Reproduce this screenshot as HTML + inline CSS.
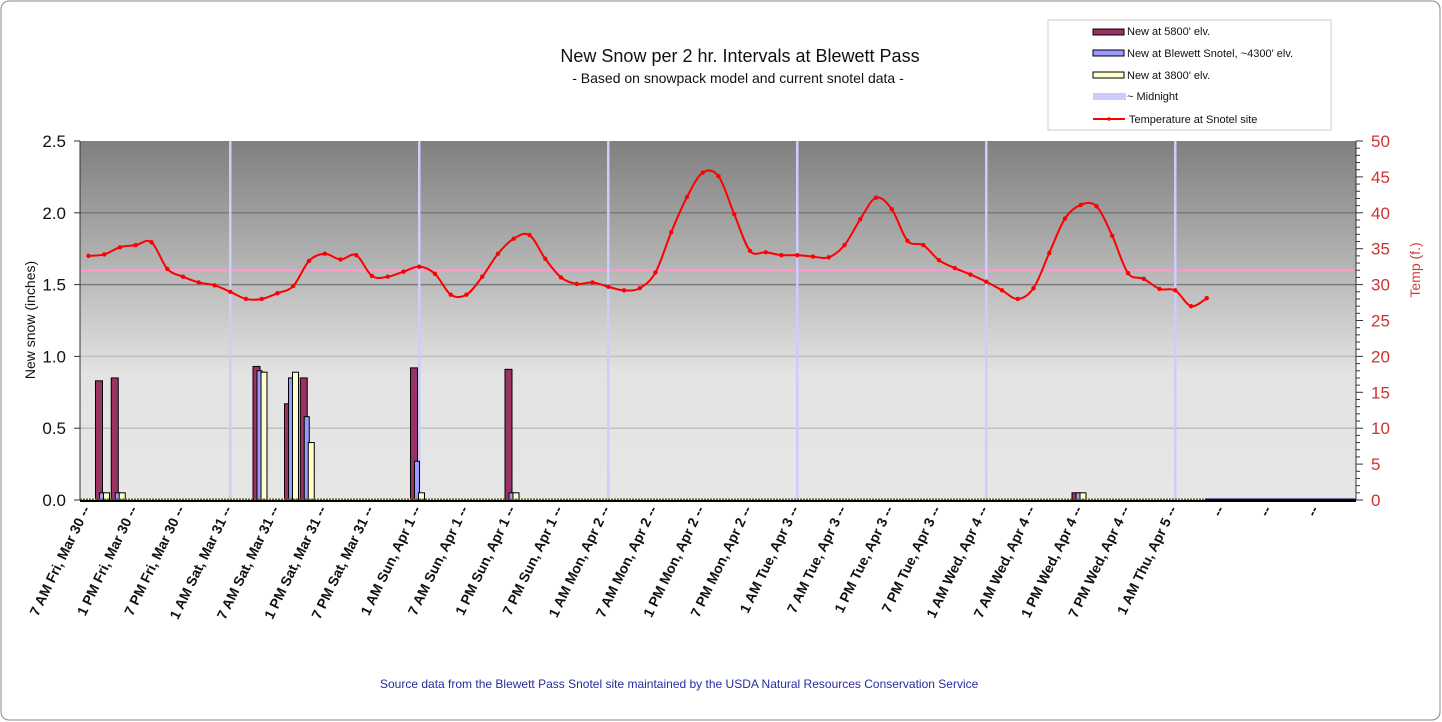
<!DOCTYPE html>
<html><head><meta charset="utf-8"><style>
body{margin:0;background:#fff;}
svg{display:block;font-family:"Liberation Sans",sans-serif;}
</style></head><body>
<svg id="c" width="1442" height="722" viewBox="0 0 1442 722">
<defs><linearGradient id="bg" x1="0" y1="0" x2="0" y2="1">
<stop offset="0" stop-color="#7f7f7f"/><stop offset="0.65" stop-color="#e3e3e3"/><stop offset="1" stop-color="#e6e6e6"/></linearGradient></defs>
<rect x="1" y="1" width="1439" height="719" rx="8" fill="#fff" stroke="#888"/>
<text x="740" y="62" font-size="18" text-anchor="middle" fill="#111">New Snow per 2 hr. Intervals at Blewett Pass</text>
<text x="738" y="83" font-size="14" text-anchor="middle" fill="#111">- Based on snowpack model and current snotel data -</text>
<rect x="80" y="141" width="1276" height="359" fill="url(#bg)"/>
<g id="grid"></g><g id="mid"></g><g id="bars"></g><g id="temp"></g><g id="axes"></g>
<text x="380" y="688" font-size="12" fill="#2a2aa0">Source data  from the Blewett Pass Snotel site maintained by the USDA Natural Resources Conservation Service</text>
<text transform="translate(35,320) rotate(-90)" font-size="14" text-anchor="middle" fill="#111">New snow   (inches)</text>
<text transform="translate(1420,270) rotate(-90)" font-size="14" text-anchor="middle" fill="#d04040">Temp (f.)</text>
<g>
<rect x="1048" y="20" width="283" height="110" fill="#fff" stroke="#ccc"/>
<rect x="1093" y="29" width="31" height="6" fill="#993366" stroke="#000"/><text x="1127" y="35" font-size="11" fill="#111">New at 5800' elv.</text>
<rect x="1093" y="50" width="31" height="6" fill="#9999ff" stroke="#000"/><text x="1127" y="57" font-size="11" fill="#111">New at Blewett Snotel, ~4300' elv.</text>
<rect x="1093" y="72" width="31" height="6" fill="#ffffcc" stroke="#000"/><text x="1127" y="79" font-size="11" fill="#111">New at 3800' elv.</text>
<rect x="1093" y="93" width="33" height="7" fill="#ccccff"/><text x="1127" y="100" font-size="11" fill="#111">~ Midnight</text>
<line x1="1093" y1="119" x2="1125" y2="119" stroke="#f00" stroke-width="2"/><circle cx="1109" cy="119" r="1.8" fill="#f00"/><text x="1129" y="123" font-size="11" fill="#111">Temperature  at Snotel site</text>
</g>
</svg>
<script>
const snowTicks=[0,0.5,1.0,1.5,2.0,2.5];
const tempTicks=[0,5,10,15,20,25,30,35,40,45,50];
const catLabels=["7 AM Fri, Mar 30 --","1 PM Fri, Mar 30 --","7 PM Fri, Mar 30 --","1 AM Sat, Mar 31 --","7 AM Sat, Mar 31 --","1 PM Sat, Mar 31 --","7 PM Sat, Mar 31 --","1 AM Sun, Apr 1 --","7 AM Sun, Apr 1 --","1 PM Sun, Apr 1 --","7 PM Sun, Apr 1 --","1 AM Mon, Apr 2 --","7 AM Mon, Apr 2 --","1 PM Mon, Apr 2 --","7 PM Mon, Apr 2 --","1 AM Tue, Apr 3 --","7 AM Tue, Apr 3 --","1 PM Tue, Apr 3 --","7 PM Tue, Apr 3 --","1 AM Wed, Apr 4 --","7 AM Wed, Apr 4 --","1 PM Wed, Apr 4 --","7 PM Wed, Apr 4 --","1 AM Thu, Apr 5 --","--","--","--"];
const midnightSlots=[9,21,33,45,57,69];
const barSlots=[0,1,10,12,13,20,26,62];
const snow5800=[0.83,0.85,0.93,0.67,0.85,0.92,0.91,0.05];
const snow4300=[0.05,0.05,0.90,0.85,0.58,0.27,0.05,0.05];
const snow3800=[0.05,0.05,0.89,0.89,0.40,0.05,0.05,0.05];
const temps=[34.0,34.2,35.2,35.5,35.9,32.2,31.1,30.3,29.9,29.0,28.0,28.0,28.8,29.8,33.3,34.3,33.5,34.1,31.2,31.1,31.8,32.5,31.5,28.6,28.6,31.1,34.3,36.4,36.9,33.6,31.0,30.1,30.3,29.7,29.2,29.5,31.7,37.3,42.2,45.6,45.1,39.8,34.7,34.5,34.1,34.1,33.9,33.8,35.5,39.1,42.1,40.5,36.1,35.5,33.4,32.3,31.4,30.4,29.2,28.0,29.5,34.4,39.2,41.1,40.9,36.8,31.6,30.8,29.4,29.2,27.0,28.1];
const freezing=32;
const NS="http://www.w3.org/2000/svg";
const X0=80,X1=1356,Y0=500,Y1=141;
const xs=i=>88.5+15.75*i;
const ys=v=>Y0-(v/2.5)*(Y0-Y1);
const yt=v=>Y0-(v/50)*(Y0-Y1);
function mk(tag,attrs,parent,txt){const e=document.createElementNS(NS,tag);for(const k in attrs)e.setAttribute(k,attrs[k]);if(txt!=null)e.textContent=txt;document.getElementById(parent).appendChild(e);return e;}
snowTicks.forEach(v=>{
 if(v>0&&v<2.5){const g=mk('line',{x1:X0,x2:X1,y1:ys(v),y2:ys(v),stroke:v>=1.5?'#7a7a7a':'#c0c0c0','stroke-width':1.5},'grid');
 
 }
 const t=mk('text',{x:66,y:ys(v)+6,'font-size':17,'text-anchor':'end',fill:'#111'},'axes',v.toFixed(1));
 
 
 mk('line',{x1:74,x2:80,y1:ys(v),y2:ys(v),stroke:'#333'},'axes');
});
const fl=mk('line',{x1:X0,x2:X1,y1:yt(freezing),y2:yt(freezing),stroke:'#ff99cc','stroke-width':2},'grid');


midnightSlots.forEach(s=>{const l=mk('line',{x1:xs(s),x2:xs(s),y1:Y1,y2:Y0,stroke:'#ccccff','stroke-width':2.5},'mid');
 
 });
barSlots.forEach((s,k)=>{
 const g=xs(s)+7;
 [[snow5800[k],0,7,'#993366'],[snow4300[k],4,5,'#9999ff'],[snow3800[k],8,6,'#ffffcc']].forEach(([v,o,w,c],j)=>{
  const r=mk('rect',{x:g+o,y:ys(v),width:w,height:Y0-ys(v),fill:c,stroke:'#000','stroke-width':1},'bars');
  
  
 });
});
const base=mk('line',{x1:X0,x2:1205,y1:Y0,y2:Y0,stroke:'#666600','stroke-width':3,'stroke-dasharray':'2 1'},'bars');


mk('line',{x1:1205,x2:X1,y1:Y0,y2:Y0,stroke:'#000066','stroke-width':3},'bars');
// smooth temp line
const P=temps.map((t,i)=>[xs(i),yt(t)]);
let d='M'+P[0][0]+','+P[0][1];
for(let i=0;i<P.length-1;i++){const p0=P[i-1]||P[i],p1=P[i],p2=P[i+1],p3=P[i+2]||p2;
 d+=` C${p1[0]+(p2[0]-p0[0])/6},${p1[1]+(p2[1]-p0[1])/6} ${p2[0]-(p3[0]-p1[0])/6},${p2[1]-(p3[1]-p1[1])/6} ${p2[0]},${p2[1]}`;}
const tl=mk('path',{d:d,fill:'none',stroke:'#ff0000','stroke-width':2},'temp');


P.forEach(p=>{const c=mk('circle',{cx:p[0],cy:p[1],r:2.2,fill:'#ff0000'},'temp');
 
 });
// axes
mk('line',{x1:X0,x2:X0,y1:Y1,y2:Y0,stroke:'#333'},'axes');
mk('line',{x1:X1,x2:X1,y1:Y1,y2:Y0,stroke:'#333'},'axes');
mk('line',{x1:X0,x2:X1,y1:Y0+1,y2:Y0+1,stroke:'#000','stroke-width':2},'axes');
for(let v=0;v<=50;v++){mk('line',{x1:X1,x2:X1+(v%5?4:7),y1:yt(v),y2:yt(v),stroke:'#333'},'axes');}
tempTicks.forEach(v=>{const t=mk('text',{x:1371,y:yt(v)+6,'font-size':17,fill:'#cc3333'},'axes',v);
 
 });
catLabels.forEach((l,k)=>{const x=xs(3*k)+2;
 const t=mk('text',{transform:`translate(${x},509) rotate(-64)`,'font-size':14,'font-weight':'bold','text-anchor':'end',fill:'#111'},'axes',l);
 
 });
</script>
</body></html>
